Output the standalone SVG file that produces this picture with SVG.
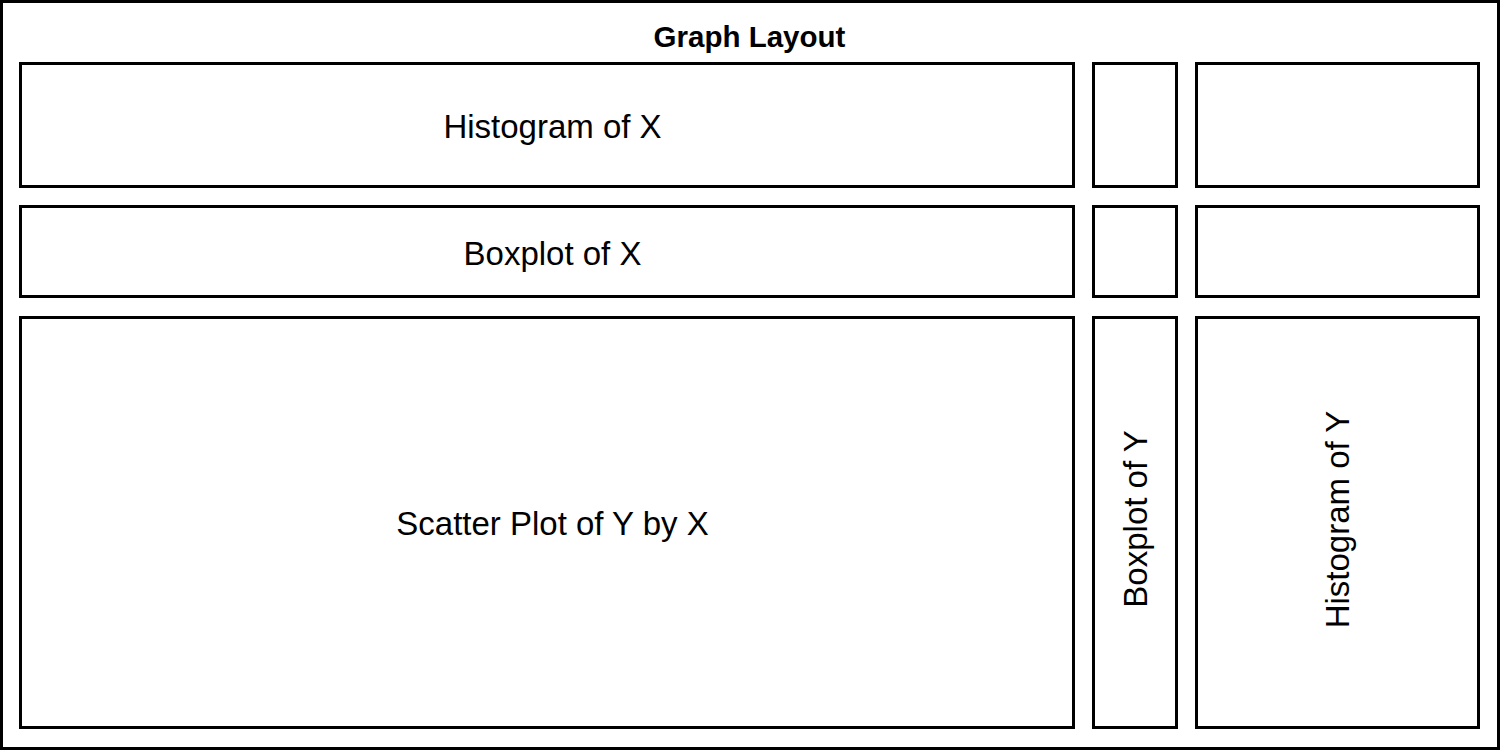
<svg xmlns="http://www.w3.org/2000/svg" width="1500" height="750" viewBox="0 0 1500 750">
  <style>
    .frame { fill: #ffffff; stroke: #000000; stroke-width: 3; }
    .cell { fill: #ffffff; stroke: #000000; stroke-width: 3; }
    .label { font-family: "Liberation Sans", Arial, sans-serif; font-size: 33px; fill: #000000; text-anchor: middle; }
    .title { font-family: "Liberation Sans", Arial, sans-serif; font-size: 29.5px; font-weight: bold; fill: #000000; text-anchor: middle; }
  </style>

  <!-- outer layout frame -->
  <g id="layout">
    <rect class="frame" x="1.5" y="1.5" width="1497" height="747"/>
    <text class="title" x="749.5" y="47">Graph Layout</text>
  </g>

  <!-- row 1 -->
  <g id="histogram-x">
    <rect class="cell" x="20.5" y="63.5" width="1053" height="123"/>
    <text class="label" x="552.5" y="138">Histogram of X</text>
  </g>
  <g id="corner-1-2">
    <rect class="cell" x="1093.5" y="63.5" width="83" height="123"/>
  </g>
  <g id="corner-1-3">
    <rect class="cell" x="1196.5" y="63.5" width="282" height="123"/>
  </g>

  <!-- row 2 -->
  <g id="boxplot-x">
    <rect class="cell" x="20.5" y="206.5" width="1053" height="90"/>
    <text class="label" x="552.5" y="265">Boxplot of X</text>
  </g>
  <g id="corner-2-2">
    <rect class="cell" x="1093.5" y="206.5" width="83" height="90"/>
  </g>
  <g id="corner-2-3">
    <rect class="cell" x="1196.5" y="206.5" width="282" height="90"/>
  </g>

  <!-- row 3 -->
  <g id="scatter-yx">
    <rect class="cell" x="20.5" y="317.5" width="1053" height="410"/>
    <text class="label" x="552.5" y="535">Scatter Plot of Y by X</text>
  </g>
  <g id="boxplot-y">
    <rect class="cell" x="1093.5" y="317.5" width="83" height="410"/>
    <text class="label" transform="translate(1147 519) rotate(-90)">Boxplot of Y</text>
  </g>
  <g id="histogram-y">
    <rect class="cell" x="1196.5" y="317.5" width="282" height="410"/>
    <text class="label" transform="translate(1349 519.5) rotate(-90)">Histogram of Y</text>
  </g>

  <!-- no connectors in this layout -->
  <g id="connectors"></g>
</svg>
